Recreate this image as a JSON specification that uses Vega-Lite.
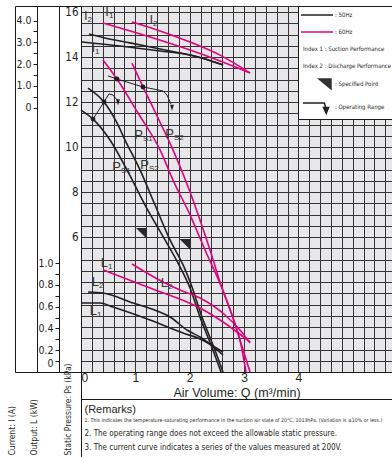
{
  "$schema": "https://vega.github.io/schema/vega-lite/v6.json",
  "width": 311,
  "height": 366,
  "autosize": {"type": "none"},
  "padding": {"left": 81, "top": 6, "right": 0, "bottom": 85},
  "background": "#ffffff",
  "config": {
    "view": {"stroke": "#1a1a1a", "strokeWidth": 1},
    "axis": {"labelOverlap": false, "domainColor": "#1a1a1a", "tickColor": "#1a1a1a", "labelColor": "#231f20", "titleColor": "#231f20", "titleFontWeight": "normal", "gridColor": "#333333", "gridOpacity": 1, "gridWidth": 1, "domainWidth": 1, "tickWidth": 1}
  },
  "datasets": {
    "pc": [
      {"curve": "bPs1", "freq": "50Hz", "Q": 0, "P": 11.64},
      {"curve": "bPs1", "freq": "50Hz", "Q": 0.221, "P": 11.24},
      {"curve": "bPs1", "freq": "50Hz", "Q": 0.534, "P": 10.31},
      {"curve": "bPs1", "freq": "50Hz", "Q": 0.865, "P": 8.89},
      {"curve": "bPs1", "freq": "50Hz", "Q": 1.178, "P": 7.42},
      {"curve": "bPs1", "freq": "50Hz", "Q": 1.546, "P": 5.87},
      {"curve": "bPs1", "freq": "50Hz", "Q": 1.822, "P": 4.67},
      {"curve": "bPs1", "freq": "50Hz", "Q": 2.006, "P": 3.73},
      {"curve": "bPs1", "freq": "50Hz", "Q": 2.19, "P": 2.44},
      {"curve": "bPs1", "freq": "50Hz", "Q": 2.392, "P": 1.2},
      {"curve": "bPs1", "freq": "50Hz", "Q": 2.576, "P": 0},
      {"curve": "bPs2", "freq": "50Hz", "Q": 0.129, "P": 12.62},
      {"curve": "bPs2", "freq": "50Hz", "Q": 0.423, "P": 12.0},
      {"curve": "bPs2", "freq": "50Hz", "Q": 0.662, "P": 11.07},
      {"curve": "bPs2", "freq": "50Hz", "Q": 0.81, "P": 10.31},
      {"curve": "bPs2", "freq": "50Hz", "Q": 1.086, "P": 8.98},
      {"curve": "bPs2", "freq": "50Hz", "Q": 1.362, "P": 7.42},
      {"curve": "bPs2", "freq": "50Hz", "Q": 1.638, "P": 5.87},
      {"curve": "bPs2", "freq": "50Hz", "Q": 1.895, "P": 4.67},
      {"curve": "bPs2", "freq": "50Hz", "Q": 2.042, "P": 3.78},
      {"curve": "bPs2", "freq": "50Hz", "Q": 2.226, "P": 2.44},
      {"curve": "bPs2", "freq": "50Hz", "Q": 2.429, "P": 1.2},
      {"curve": "bPs2", "freq": "50Hz", "Q": 2.613, "P": 0},
      {"curve": "pPs1", "freq": "60Hz", "Q": 0.405, "P": 13.87},
      {"curve": "pPs1", "freq": "60Hz", "Q": 0.662, "P": 13.02},
      {"curve": "pPs1", "freq": "60Hz", "Q": 1.049, "P": 11.51},
      {"curve": "pPs1", "freq": "60Hz", "Q": 1.454, "P": 9.87},
      {"curve": "pPs1", "freq": "60Hz", "Q": 1.693, "P": 8.53},
      {"curve": "pPs1", "freq": "60Hz", "Q": 2.006, "P": 6.98},
      {"curve": "pPs1", "freq": "60Hz", "Q": 2.282, "P": 5.42},
      {"curve": "pPs1", "freq": "60Hz", "Q": 2.594, "P": 3.73},
      {"curve": "pPs1", "freq": "60Hz", "Q": 2.778, "P": 2.53},
      {"curve": "pPs1", "freq": "60Hz", "Q": 2.925, "P": 1.42},
      {"curve": "pPs1", "freq": "60Hz", "Q": 3.11, "P": 0},
      {"curve": "pPs2", "freq": "60Hz", "Q": 0.938, "P": 13.73},
      {"curve": "pPs2", "freq": "60Hz", "Q": 1.141, "P": 12.67},
      {"curve": "pPs2", "freq": "60Hz", "Q": 1.417, "P": 11.29},
      {"curve": "pPs2", "freq": "60Hz", "Q": 1.693, "P": 9.87},
      {"curve": "pPs2", "freq": "60Hz", "Q": 2.006, "P": 8.0},
      {"curve": "pPs2", "freq": "60Hz", "Q": 2.374, "P": 5.42},
      {"curve": "pPs2", "freq": "60Hz", "Q": 2.594, "P": 3.73},
      {"curve": "pPs2", "freq": "60Hz", "Q": 2.797, "P": 2.4},
      {"curve": "pPs2", "freq": "60Hz", "Q": 2.925, "P": 1.42},
      {"curve": "pPs2", "freq": "60Hz", "Q": 3.036, "P": 0}
    ],
    "pl": [
      {"lab": "P", "sub": "S1", "Q": 1.141, "P": 10.53},
      {"lab": "P", "sub": "S2", "Q": 1.711, "P": 10.58},
      {"lab": "P", "sub": "S1", "Q": 0.736, "P": 9.11},
      {"lab": "P", "sub": "S2", "Q": 1.251, "P": 9.2}
    ],
    "lc": [
      {"curve": "bL2", "freq": "50Hz", "Q": 0.129, "L": 0.734},
      {"curve": "bL2", "freq": "50Hz", "Q": 0.405, "L": 0.725},
      {"curve": "bL2", "freq": "50Hz", "Q": 0.957, "L": 0.633},
      {"curve": "bL2", "freq": "50Hz", "Q": 1.398, "L": 0.56},
      {"curve": "bL2", "freq": "50Hz", "Q": 1.638, "L": 0.505},
      {"curve": "bL2", "freq": "50Hz", "Q": 1.95, "L": 0.385},
      {"curve": "bL2", "freq": "50Hz", "Q": 2.19, "L": 0.321},
      {"curve": "bL2", "freq": "50Hz", "Q": 2.613, "L": 0.156},
      {"curve": "bL1", "freq": "50Hz", "Q": 0.018, "L": 0.633},
      {"curve": "bL1", "freq": "50Hz", "Q": 0.35, "L": 0.633},
      {"curve": "bL1", "freq": "50Hz", "Q": 0.589, "L": 0.596},
      {"curve": "bL1", "freq": "50Hz", "Q": 1.27, "L": 0.477},
      {"curve": "bL1", "freq": "50Hz", "Q": 1.877, "L": 0.358},
      {"curve": "bL1", "freq": "50Hz", "Q": 2.19, "L": 0.303},
      {"curve": "bL1", "freq": "50Hz", "Q": 2.613, "L": 0.183},
      {"curve": "pL1", "freq": "60Hz", "Q": 0.405, "L": 0.936},
      {"curve": "pL1", "freq": "60Hz", "Q": 1.27, "L": 0.771},
      {"curve": "pL1", "freq": "60Hz", "Q": 2.19, "L": 0.587},
      {"curve": "pL1", "freq": "60Hz", "Q": 2.558, "L": 0.477},
      {"curve": "pL1", "freq": "60Hz", "Q": 2.87, "L": 0.367},
      {"curve": "pL1", "freq": "60Hz", "Q": 3.11, "L": 0.275},
      {"curve": "pL2", "freq": "60Hz", "Q": 0.938, "L": 0.991},
      {"curve": "pL2", "freq": "60Hz", "Q": 1.509, "L": 0.826},
      {"curve": "pL2", "freq": "60Hz", "Q": 1.822, "L": 0.752},
      {"curve": "pL2", "freq": "60Hz", "Q": 2.19, "L": 0.679},
      {"curve": "pL2", "freq": "60Hz", "Q": 2.65, "L": 0.523},
      {"curve": "pL2", "freq": "60Hz", "Q": 2.925, "L": 0.385},
      {"curve": "pL2", "freq": "60Hz", "Q": 3.11, "L": 0.266}
    ],
    "ll": [
      {"lab": "L", "sub": "1", "Q": 0.497, "L": 1.0},
      {"lab": "L", "sub": "2", "Q": 1.6, "L": 0.817},
      {"lab": "L", "sub": "2", "Q": 0.331, "L": 0.826},
      {"lab": "L", "sub": "1", "Q": 0.294, "L": 0.56}
    ],
    "ic": [
      {"curve": "bI1", "freq": "50Hz", "Q": 0.018, "I": 3.01},
      {"curve": "bI1", "freq": "50Hz", "Q": 0.718, "I": 2.83},
      {"curve": "bI1", "freq": "50Hz", "Q": 1.454, "I": 2.6},
      {"curve": "bI1", "freq": "50Hz", "Q": 2.006, "I": 2.41},
      {"curve": "bI1", "freq": "50Hz", "Q": 2.282, "I": 2.23},
      {"curve": "bI1", "freq": "50Hz", "Q": 2.613, "I": 1.95},
      {"curve": "bI2", "freq": "50Hz", "Q": 0.147, "I": 3.38},
      {"curve": "bI2", "freq": "50Hz", "Q": 0.442, "I": 3.2},
      {"curve": "bI2", "freq": "50Hz", "Q": 0.902, "I": 2.97},
      {"curve": "bI2", "freq": "50Hz", "Q": 1.454, "I": 2.69},
      {"curve": "bI2", "freq": "50Hz", "Q": 2.006, "I": 2.41},
      {"curve": "bI2", "freq": "50Hz", "Q": 2.282, "I": 2.23},
      {"curve": "bI2", "freq": "50Hz", "Q": 2.613, "I": 1.95},
      {"curve": "pI1", "freq": "60Hz", "Q": 0.405, "I": 3.885},
      {"curve": "pI1", "freq": "60Hz", "Q": 1.27, "I": 3.24},
      {"curve": "pI1", "freq": "60Hz", "Q": 2.006, "I": 2.64},
      {"curve": "pI1", "freq": "60Hz", "Q": 2.558, "I": 2.14},
      {"curve": "pI1", "freq": "60Hz", "Q": 3.11, "I": 1.59},
      {"curve": "pI2", "freq": "60Hz", "Q": 0.938, "I": 3.93},
      {"curve": "pI2", "freq": "60Hz", "Q": 1.454, "I": 3.52},
      {"curve": "pI2", "freq": "60Hz", "Q": 2.006, "I": 3.01},
      {"curve": "pI2", "freq": "60Hz", "Q": 2.558, "I": 2.41},
      {"curve": "pI2", "freq": "60Hz", "Q": 3.11, "I": 1.59}
    ],
    "il": [
      {"lab": "I", "sub": "2", "Q": 0.12, "I": 4.21},
      {"lab": "I", "sub": "1", "Q": 0.515, "I": 4.39},
      {"lab": "I", "sub": "2", "Q": 1.325, "I": 4.02},
      {"lab": "I", "sub": "1", "Q": 0.258, "I": 2.74}
    ],
    "op": [
      {"grp": "50Hz", "Q": 0.221, "P": 11.24},
      {"grp": "50Hz", "Q": 0.423, "P": 12.0},
      {"grp": "50Hz", "Q": 0.515, "P": 12.36},
      {"grp": "50Hz", "Q": 0.589, "P": 12.31},
      {"grp": "50Hz", "Q": 0.662, "P": 12.09},
      {"grp": "60Hz", "Q": 0.497, "P": 13.16},
      {"grp": "60Hz", "Q": 0.662, "P": 13.02},
      {"grp": "60Hz", "Q": 1.141, "P": 12.67},
      {"grp": "60Hz", "Q": 1.509, "P": 12.49},
      {"grp": "60Hz", "Q": 1.582, "P": 12.31},
      {"grp": "60Hz", "Q": 1.656, "P": 11.91}
    ],
    "dots": [
      {"Q": 0.221, "P": 11.24},
      {"Q": 0.423, "P": 12.0},
      {"Q": 0.662, "P": 13.02},
      {"Q": 1.141, "P": 12.67}
    ],
    "arrows": [
      {"Q": 0.681, "P": 11.98},
      {"Q": 1.674, "P": 11.74}
    ],
    "spec": [
      {"freq": "50Hz", "Q": 1.113, "P": 6.16},
      {"freq": "60Hz", "Q": 1.914, "P": 5.67}
    ],
    "lg": [
      {"key": ": 50Hz"},
      {"key": ": 60Hz"},
      {"key": "Index 1 : Suction Performance"},
      {"key": "Index 2 : Discharge Performance"},
      {"key": ": Specified Point"},
      {"key": ": Operating Range"}
    ]
  },
  "layer": [
    {
      "data": {"name": "pc"},
      "mark": {"type": "line", "strokeWidth": 1.6, "interpolate": "monotone"},
      "encoding": {
        "x": {"field": "Q", "type": "quantitative", "scale": {"domain": [0, 5.722], "nice": false, "zero": false},
          "axis": {"orient": "bottom", "values": [2.861], "grid": true, "gridWidth": 312, "gridColor": "#e7e7e9", "ticks": false, "domain": false, "labels": false, "title": null}},
        "y": {"field": "P", "type": "quantitative", "scale": {"domain": [0, 16.267], "nice": false, "zero": false},
          "axis": {"orient": "left", "offset": 0, "values": [0,0.5,1,1.5,2,2.5,3,3.5,4,4.5,5,5.5,6,6.5,7,7.5,8,8.5,9,9.5,10,10.5,11,11.5,12,12.5,13,13.5,14,14.5,15,15.5,16,16.267],
            "grid": true, "ticks": true, "tickSize": {"condition": {"test": "datum.value == 0 || datum.value > 16.1", "value": 66}, "value": 0},
            "domain": true, "labelExpr": "datum.value >= 6 && datum.value % 2 == 0 ? format(datum.value, 'd') : ''",
            "labelFont": "Liberation Sans Narrow, Arial Narrow, DejaVu Sans Condensed, sans-serif", "labelFontSize": 11.5, "labelPadding": 3,
            "title": "Static Pressure: Ps (kPa)", "titleFont": "Liberation Sans Narrow, Arial Narrow, DejaVu Sans Condensed, sans-serif", "titleFontSize": 8.5,
            "titleAngle": -90, "titleX": -14, "titleY": 449, "titleAlign": "left", "titleBaseline": "middle"}},
        "color": {"field": "freq", "type": "nominal", "scale": {"domain": ["50Hz", "60Hz"], "range": ["#231f20", "#e4007f"]}, "legend": null},
        "detail": {"field": "curve", "type": "nominal"}
      }
    },
    {
      "data": {"name": "pl"},
      "mark": {"type": "text", "align": "right", "baseline": "middle", "fontSize": 13, "font": "Liberation Sans, Arial, sans-serif", "color": "#333333"},
      "encoding": {
        "x": {"field": "Q", "type": "quantitative", "scale": {"domain": [0, 5.722], "nice": false, "zero": false}, "axis": null},
        "y": {"field": "P", "type": "quantitative", "scale": {"domain": [0, 16.267], "nice": false, "zero": false}, "axis": null},
        "text": {"field": "lab"}
      }
    },
    {
      "data": {"name": "pl"},
      "mark": {"type": "text", "align": "left", "baseline": "top", "fontSize": 8, "font": "Liberation Sans, Arial, sans-serif", "color": "#333333"},
      "encoding": {
        "x": {"field": "Q", "type": "quantitative", "scale": {"domain": [0, 5.722], "nice": false, "zero": false}, "axis": null},
        "y": {"field": "P", "type": "quantitative", "scale": {"domain": [0, 16.267], "nice": false, "zero": false}, "axis": null},
        "text": {"field": "sub"}
      }
    },
    {
      "data": {"name": "lc"},
      "mark": {"type": "line", "strokeWidth": 1.6, "interpolate": "monotone"},
      "encoding": {
        "x": {"field": "Q", "type": "quantitative", "scale": {"domain": [0, 5.722], "nice": false, "zero": false},
          "axis": {"orient": "bottom", "values": [0,0.2,0.4,0.6,0.8,1,1.2,1.4,1.6,1.8,2,2.2,2.4,2.6,2.8,3,3.2,3.4,3.6,3.8,4,4.2,4.4,4.6,4.8,5,5.2,5.4,5.6], "grid": true, "ticks": false, "domain": true,
            "labelExpr": "datum.value % 1 == 0 && datum.value <= 4 ? format(datum.value, 'd') : ''", "labelFlush": true,
            "labelFont": "Liberation Sans, Arial, sans-serif", "labelFontSize": 12, "labelPadding": 0,
            "title": "Air Volume: Q (m³/min)", "titleFont": "Liberation Sans, Arial, sans-serif", "titleFontSize": 12.5, "titleY": 14, "titleBaseline": "top"}},
        "y": {"field": "L", "type": "quantitative", "scale": {"domain": [0, 3.358], "nice": false, "zero": false},
          "axis": {"orient": "left", "offset": 22, "values": [0,0.1,0.2,0.3,0.4,0.5,0.6,0.7,0.8,0.9,1], "grid": false, "ticks": true, "tickSize": 4, "domain": true,
            "labelExpr": "datum.value == 0 ? '0' : (round(datum.value * 10) % 2 == 0 ? format(datum.value, '.1f') : '')",
            "labelOffset": {"condition": {"test": "datum.value == 0", "value": -9}, "value": 0},
            "labelFont": "Liberation Sans Narrow, Arial Narrow, DejaVu Sans Condensed, sans-serif", "labelFontSize": 10.5, "labelPadding": 2,
            "title": "Output: L (kW)", "titleFont": "Liberation Sans Narrow, Arial Narrow, DejaVu Sans Condensed, sans-serif", "titleFontSize": 8.5,
            "titleAngle": -90, "titleX": -26, "titleY": 449, "titleAlign": "left", "titleBaseline": "middle"}},
        "color": {"field": "freq", "type": "nominal", "scale": {"domain": ["50Hz", "60Hz"], "range": ["#231f20", "#e4007f"]}, "legend": null},
        "detail": {"field": "curve", "type": "nominal"}
      }
    },
    {
      "data": {"name": "ll"},
      "mark": {"type": "text", "align": "right", "baseline": "middle", "fontSize": 13, "font": "Liberation Sans, Arial, sans-serif", "color": "#333333"},
      "encoding": {
        "x": {"field": "Q", "type": "quantitative", "scale": {"domain": [0, 5.722], "nice": false, "zero": false}, "axis": null},
        "y": {"field": "L", "type": "quantitative", "scale": {"domain": [0, 3.358], "nice": false, "zero": false}, "axis": null},
        "text": {"field": "lab"}
      }
    },
    {
      "data": {"name": "ll"},
      "mark": {"type": "text", "align": "left", "baseline": "top", "fontSize": 8, "font": "Liberation Sans, Arial, sans-serif", "color": "#333333"},
      "encoding": {
        "x": {"field": "Q", "type": "quantitative", "scale": {"domain": [0, 5.722], "nice": false, "zero": false}, "axis": null},
        "y": {"field": "L", "type": "quantitative", "scale": {"domain": [0, 3.358], "nice": false, "zero": false}, "axis": null},
        "text": {"field": "sub"}
      }
    },
    {
      "data": {"name": "ic"},
      "mark": {"type": "line", "strokeWidth": 1.6, "interpolate": "monotone"},
      "encoding": {
        "x": {"field": "Q", "type": "quantitative", "scale": {"domain": [0, 5.722], "nice": false, "zero": false},
          "axis": {"orient": "bottom", "values": [-1.2144, -0.8096, -0.4048, 0], "grid": false, "ticks": true, "tickSize": 85, "domain": false, "labels": false,
            "title": "(Remarks)", "titleFont": "Liberation Sans, Arial, sans-serif", "titleFontSize": 11, "titleX": 3, "titleY": 31, "titleAlign": "left", "titleBaseline": "top", "titleLimit": 400}},
        "y": {"field": "I", "type": "quantitative", "scale": {"domain": [-12.161, 4.667], "nice": false, "zero": false},
          "axis": {"orient": "left", "offset": 44, "values": [0,0.5,1,1.5,2,2.5,3,3.5,4], "grid": false, "ticks": true, "tickSize": 4, "domain": true,
            "labelExpr": "datum.value == 0 ? '0' : (datum.value % 1 == 0 ? format(datum.value, '.1f') : '')",
            "labelFont": "Liberation Sans Narrow, Arial Narrow, DejaVu Sans Condensed, sans-serif", "labelFontSize": 10.5, "labelPadding": 2,
            "title": "Current: I (A)", "titleFont": "Liberation Sans Narrow, Arial Narrow, DejaVu Sans Condensed, sans-serif", "titleFontSize": 8.5,
            "titleAngle": -90, "titleX": -26, "titleY": 449, "titleAlign": "left", "titleBaseline": "middle"}},
        "color": {"field": "freq", "type": "nominal", "scale": {"domain": ["50Hz", "60Hz"], "range": ["#231f20", "#e4007f"]}, "legend": null},
        "detail": {"field": "curve", "type": "nominal"}
      }
    },
    {
      "data": {"name": "il"},
      "mark": {"type": "text", "align": "right", "baseline": "middle", "fontSize": 13, "font": "Liberation Sans, Arial, sans-serif", "color": "#333333"},
      "encoding": {
        "x": {"field": "Q", "type": "quantitative", "scale": {"domain": [0, 5.722], "nice": false, "zero": false}, "axis": null},
        "y": {"field": "I", "type": "quantitative", "scale": {"domain": [-12.161, 4.667], "nice": false, "zero": false}, "axis": null},
        "text": {"field": "lab"}
      }
    },
    {
      "data": {"name": "il"},
      "mark": {"type": "text", "align": "left", "baseline": "top", "fontSize": 8, "font": "Liberation Sans, Arial, sans-serif", "color": "#333333"},
      "encoding": {
        "x": {"field": "Q", "type": "quantitative", "scale": {"domain": [0, 5.722], "nice": false, "zero": false}, "axis": null},
        "y": {"field": "I", "type": "quantitative", "scale": {"domain": [-12.161, 4.667], "nice": false, "zero": false}, "axis": null},
        "text": {"field": "sub"}
      }
    },
    {
      "data": {"name": "op"},
      "mark": {"type": "line", "strokeWidth": 1, "color": "#231f20"},
      "encoding": {
        "x": {"field": "Q", "type": "quantitative", "scale": {"domain": [0, 5.722], "nice": false, "zero": false},
          "axis": {"orient": "bottom", "grid": false, "ticks": false, "domain": false, "labels": false,
            "title": "1. This indicates the temperature-saturating performance in the suction air state of 20°C, 1013hPa. (Variation is ±10% or less.)",
            "titleFont": "Liberation Sans Narrow, Arial Narrow, DejaVu Sans Condensed, sans-serif", "titleFontSize": 5.2, "titleX": 3, "titleY": 45, "titleAlign": "left", "titleBaseline": "top", "titleLimit": 400}},
        "y": {"field": "P", "type": "quantitative", "scale": {"domain": [0, 16.267], "nice": false, "zero": false},
          "axis": {"orient": "left", "offset": 66, "grid": false, "ticks": false, "labels": false, "domain": true, "title": null}},
        "detail": {"field": "grp", "type": "nominal"}
      }
    },
    {
      "data": {"name": "dots"},
      "mark": {"type": "point", "filled": true, "size": 24, "color": "#231f20", "opacity": 1},
      "encoding": {
        "x": {"field": "Q", "type": "quantitative", "scale": {"domain": [0, 5.722], "nice": false, "zero": false},
          "axis": {"orient": "bottom", "grid": false, "ticks": false, "domain": false, "labels": false,
            "title": "2. The operating range does not exceed the allowable static pressure.",
            "titleFont": "Liberation Sans Narrow, Arial Narrow, DejaVu Sans Condensed, sans-serif", "titleFontSize": 8, "titleX": 3, "titleY": 57, "titleAlign": "left", "titleBaseline": "top", "titleLimit": 400}},
        "y": {"field": "P", "type": "quantitative", "scale": {"domain": [0, 16.267], "nice": false, "zero": false}, "axis": null}
      }
    },
    {
      "data": {"name": "arrows"},
      "mark": {"type": "point", "filled": true, "size": 40, "color": "#231f20", "opacity": 1, "shape": "M-0.6,-1L0.6,-1L0,1Z"},
      "encoding": {
        "x": {"field": "Q", "type": "quantitative", "scale": {"domain": [0, 5.722], "nice": false, "zero": false},
          "axis": {"orient": "bottom", "grid": false, "ticks": false, "domain": false, "labels": false,
            "title": "3. The current curve indicates a series of the values measured at 200V.",
            "titleFont": "Liberation Sans Narrow, Arial Narrow, DejaVu Sans Condensed, sans-serif", "titleFontSize": 8, "titleX": 3, "titleY": 71, "titleAlign": "left", "titleBaseline": "top", "titleLimit": 400}},
        "y": {"field": "P", "type": "quantitative", "scale": {"domain": [0, 16.267], "nice": false, "zero": false}, "axis": null}
      }
    },
    {
      "data": {"name": "spec"},
      "mark": {"type": "point", "filled": true, "size": 121, "color": "#2a2a2a", "opacity": 1, "shape": "M-1,-1L1,-1L1,1Z"},
      "encoding": {
        "x": {"field": "Q", "type": "quantitative", "scale": {"domain": [0, 5.722], "nice": false, "zero": false},
          "axis": {"orient": "bottom", "offset": 27, "grid": false, "ticks": false, "domain": true, "labels": false, "title": null}},
        "y": {"field": "P", "type": "quantitative", "scale": {"domain": [0, 16.267], "nice": false, "zero": false}, "axis": null}
      }
    },
    {
      "data": {"name": "lg"},
      "mark": {"type": "point", "filled": true, "opacity": 0},
      "encoding": {
        "fill": {"field": "key", "type": "nominal",
          "scale": {"domain": [": 50Hz", ": 60Hz", "Index 1 : Suction Performance", "Index 2 : Discharge Performance", ": Specified Point", ": Operating Range"],
            "range": ["#231f20", "#e4007f", "transparent", "transparent", "#333333", "#231f20"]},
          "legend": {"orient": "none", "legendX": 217, "legendY": 0, "title": null, "padding": 2, "fillColor": "#ffffff", "strokeColor": "#1a1a1a",
            "symbolSize": 144, "symbolStrokeWidth": 1.5, "symbolOpacity": 1, "labelFont": "Liberation Sans Narrow, Arial Narrow, DejaVu Sans Condensed, sans-serif",
            "labelFontSize": 6, "labelColor": "#231f20", "labelOffset": 21, "labelLimit": 300, "rowPadding": 7, "zindex": 1,
            "encode": {"symbols": {"update": {"opacity": {"value": 1}, "fillOpacity": {"value": 1}, "strokeOpacity": {"value": 1}}},
              "labels": {"update": {"dx": {"signal": "indexof(datum.value, 'Index') == 0 ? -32 : 0"}}}}}},
        "stroke": {"field": "key", "type": "nominal",
          "scale": {"domain": [": 50Hz", ": 60Hz", "Index 1 : Suction Performance", "Index 2 : Discharge Performance", ": Specified Point", ": Operating Range"],
            "range": ["#231f20", "#e4007f", "transparent", "transparent", "#333333", "#231f20"]},
          "legend": {"orient": "none", "legendX": 217, "legendY": 0, "title": null, "padding": 2, "fillColor": "#ffffff", "strokeColor": "#1a1a1a",
            "symbolSize": 144, "symbolStrokeWidth": 1.5, "symbolOpacity": 1, "labelFont": "Liberation Sans Narrow, Arial Narrow, DejaVu Sans Condensed, sans-serif",
            "labelFontSize": 6, "labelColor": "#231f20", "labelOffset": 21, "labelLimit": 300, "rowPadding": 7, "zindex": 1}},
        "shape": {"field": "key", "type": "nominal",
          "scale": {"domain": [": 50Hz", ": 60Hz", "Index 1 : Suction Performance", "Index 2 : Discharge Performance", ": Specified Point", ": Operating Range"],
            "range": ["M-1,0L4.33,0", "M-1,0L4.33,0", "M0,0", "M0,0", "M2,-0.83L4,-0.83L4,0.83Z", "M-0.67,-0.67L2.9,-0.67L3.15,0.3L2.9,-0.67Z M2.75,0.1L3.6,0.1L3.2,1.05Z"]},
          "legend": {"orient": "none", "legendX": 217, "legendY": 0, "title": null, "padding": 2, "fillColor": "#ffffff", "strokeColor": "#1a1a1a",
            "symbolSize": 144, "symbolStrokeWidth": 1.5, "symbolOpacity": 1, "labelFont": "Liberation Sans Narrow, Arial Narrow, DejaVu Sans Condensed, sans-serif",
            "labelFontSize": 6, "labelColor": "#231f20", "labelOffset": 21, "labelLimit": 300, "rowPadding": 7, "zindex": 1}}
      }
    }
  ],
  "resolve": {"scale": {"y": "independent"}, "axis": {"x": "independent", "y": "independent"}}
}
